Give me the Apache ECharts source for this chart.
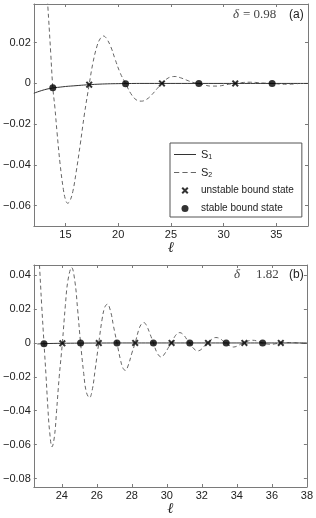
<!DOCTYPE html>
<html><head><meta charset="utf-8">
<script src="https://cdn.jsdelivr.net/npm/echarts@6/dist/echarts.min.js"></script>
<style>html,body{margin:0;padding:0;background:#fff}#c{width:316px;height:518px}</style>
</head><body><div id="c"></div>
<script>
// ---------- panel (a) ----------
const aTicksX = [15, 20, 25, 30, 35];
const aTicksY = [-0.06, -0.04, -0.02, 0, 0.02];
const aS1L = [12, 12.5, 13, 13.5, 14, 14.5, 15, 16, 17, 18, 19, 20, 21, 22, 24, 26, 28, 30, 32, 34, 36, 38];
const aS1V = [-0.0048, -0.0039, -0.0031, -0.0025, -0.0021, -0.0018, -0.0015, -0.0011, -0.0007, -0.0004, -0.0002, -0.0001, -0.00005, 0, 0, 0, 0, 0, 0, 0, 0, 0];
const aS2L = [13.2, 13.4, 13.6, 13.8, 14.0, 14.2, 14.5, 14.8, 15.0, 15.2, 15.4, 15.7, 16.0, 16.4, 16.8, 17.25, 17.6, 18.0, 18.3, 18.6, 18.9, 19.3, 19.7, 20.2, 20.7, 21.2, 21.7, 22.2, 22.7, 23.2, 23.7, 24.15, 24.6, 25.0, 25.4, 25.9, 26.5, 27.1, 27.65, 28.2, 28.8, 29.4, 30.0, 30.6, 31.1, 31.7, 32.4, 33.0, 33.7, 34.6, 35.3, 36.0, 36.6, 37.0];
const aS2V = [0.048, 0.032, 0.015, -0.002, -0.012, -0.024, -0.040, -0.052, -0.057, -0.0588, -0.058, -0.053, -0.044, -0.030, -0.015, -0.0005, 0.010, 0.0185, 0.022, 0.0233, 0.022, 0.018, 0.012, 0.005, 0.000, -0.005, -0.0080, -0.0087, -0.0078, -0.0055, -0.0025, 0.000, 0.0022, 0.0032, 0.0034, 0.0028, 0.0016, 0.0005, 0.000, -0.0008, -0.0013, -0.0013, -0.0009, -0.0003, 0.000, 0.0004, 0.0006, 0.0005, 0.0002, 0.000, -0.0003, -0.0004, -0.0003, -0.0002];
const aUnstableL = [17.25, 24.15, 31.1];
const aUnstableV = [-0.0006, 0, 0];
const aStableL = [13.8, 20.7, 27.65, 34.6];
const aStableV = [-0.0021, -0.0001, 0, 0];

// ---------- panel (b) ----------
const bTicksX = [24, 26, 28, 30, 32, 34, 36, 38];
const bTicksY = [-0.08, -0.06, -0.04, -0.02, 0, 0.02, 0.04];
const bS1L = [22.6, 23, 24, 25, 26, 28, 30, 32, 34, 36, 38];
const bS1V = [-0.0006, -0.0004, -0.0002, -0.0001, -0.00005, 0, 0, 0, 0, 0, 0];
const bS2L = [22.55, 22.7, 22.85, 22.98, 23.1, 23.2, 23.3, 23.44, 23.58, 23.7, 23.85, 24.03, 24.2, 24.35, 24.56, 24.75, 24.9, 25.07, 25.25, 25.4, 25.58, 25.75, 25.9, 26.11, 26.3, 26.45, 26.6, 26.8, 26.95, 27.15, 27.35, 27.5, 27.63, 27.8, 28.0, 28.19, 28.4, 28.55, 28.69, 28.85, 29.05, 29.23, 29.45, 29.68, 29.9, 30.1, 30.27, 30.5, 30.74, 30.95, 31.15, 31.31, 31.55, 31.77, 32.0, 32.2, 32.35, 32.6, 32.8, 33.05, 33.25, 33.39, 33.6, 33.8, 34.05, 34.25, 34.43, 34.65, 34.9, 35.2, 35.47, 35.75, 35.95, 36.2, 36.51, 36.9, 37.3, 37.7, 38.0];
const bS2V = [0.075, 0.050, 0.022, 0.000, -0.020, -0.038, -0.052, -0.0613, -0.055, -0.040, -0.020, 0.000, 0.022, 0.037, 0.0445, 0.036, 0.020, 0.000, -0.018, -0.029, -0.0323, -0.027, -0.016, 0.000, 0.014, 0.021, 0.0229, 0.018, 0.010, 0.000, -0.010, -0.015, -0.0162, -0.013, -0.006, 0.000, 0.008, 0.0112, 0.0120, 0.010, 0.005, 0.000, -0.006, -0.0083, -0.006, -0.0025, 0.000, 0.0045, 0.0061, 0.0048, 0.002, 0.000, -0.0035, -0.0047, -0.0035, -0.0012, 0.000, 0.0025, 0.0032, 0.0025, 0.0008, 0.000, -0.0017, -0.0024, -0.0017, -0.0005, 0.000, 0.0012, 0.0016, 0.0010, 0.000, -0.0007, -0.0008, -0.0005, 0.000, 0.0002, 0.0001, -0.0002, -0.0003];
const bUnstableL = [24.03, 26.11, 28.19, 30.27, 32.35, 34.43, 36.51];
const bUnstableV = [-0.0002, -0.0001, 0, 0, 0, 0, 0];
const bStableL = [22.98, 25.07, 27.15, 29.23, 31.31, 33.39, 35.47];
const bStableV = [-0.0004, -0.0001, 0, 0, 0, 0, 0];

const zip = (xs, ys) => xs.map((x, i) => [x, ys[i]]);
const CROSS = 'path://M2,0L5,3L8,0L10,2L7,5L10,8L8,10L5,7L2,10L0,8L3,5L0,2Z';
const SOLID_ICON = 'path://M0,0H22V1H0Z';
const DASH_ICON = 'path://M0,0H5V1H0Z M8,0H13V1H8Z M16,0H21V1H16Z';
const AX = '#7a7a7a';
const LBL = {fontFamily: 'Liberation Sans', fontSize: 11, color: '#222'};
const yFmt = v => v === 0 ? '0' : (v < 0 ? '\u2212' : '') + Math.abs(v).toFixed(2);

function xAx(grid, min, max, ticks, primary) {
  return {
    type: 'value', gridIndex: grid, min: min, max: max,
    position: primary ? 'bottom' : 'top',
    axisLine: {show: true, onZero: false, lineStyle: {color: AX, width: 1}},
    axisTick: {show: true, inside: true, length: 3, customValues: ticks, lineStyle: {color: AX}},
    axisLabel: primary ? Object.assign({show: true, margin: 3, customValues: ticks}, LBL) : {show: false},
    splitLine: {show: false},
    name: primary ? 'ℓ' : '', nameLocation: 'middle', nameGap: 10,
    nameTextStyle: {fontFamily: 'Liberation Serif', fontStyle: 'italic', fontSize: 15, color: '#222'}
  };
}
function yAx(grid, min, max, ticks, primary) {
  return {
    type: 'value', gridIndex: grid, min: min, max: max,
    position: primary ? 'left' : 'right',
    axisLine: {show: true, onZero: false, lineStyle: {color: AX, width: 1}},
    axisTick: {show: true, inside: true, length: 3, customValues: ticks, lineStyle: {color: AX}},
    axisLabel: primary ? Object.assign({show: true, margin: 3, customValues: ticks, formatter: yFmt}, LBL) : {show: false},
    splitLine: {show: false}
  };
}
function panelSeries(g, s1, s2, un, st) {
  return [
    {name: 'S1', type: 'line', xAxisIndex: g * 2, yAxisIndex: g * 2, data: s1, symbol: 'none', smooth: 0.4,
     lineStyle: {color: '#333', width: 1}, itemStyle: {color: '#333'}, z: 3},
    {name: 'S2', type: 'line', xAxisIndex: g * 2, yAxisIndex: g * 2, data: s2, symbol: 'none', smooth: 0.4,
     lineStyle: {color: '#666', width: 1, type: [4, 3]}, itemStyle: {color: '#666'}, z: 2},
    {name: 'unstable bound state', type: 'scatter', xAxisIndex: g * 2, yAxisIndex: g * 2, data: un,
     symbol: CROSS, symbolSize: 7, itemStyle: {color: '#000'}, z: 5},
    {name: 'stable bound state', type: 'scatter', xAxisIndex: g * 2, yAxisIndex: g * 2, data: st,
     symbol: 'circle', symbolSize: 7, itemStyle: {color: '#000'}, z: 5}
  ];
}
function txt(x, y, s, font, fill) {
  return {type: 'text', x: x, y: y, z: 10,
    style: {text: s, font: font, fill: fill, textVerticalAlign: 'middle', textAlign: 'left'}};
}
const SERIF_I = 'italic 13px "Liberation Serif"';
const SERIF = '13px "Liberation Serif"';
const SANS = '12px "Liberation Sans"';

const chart = echarts.init(document.getElementById('c'), null, {renderer: 'canvas'});
chart.setOption({
  animation: false,
  backgroundColor: '#fff',
  grid: [
    {left: 29, right: 8, top: 4, height: 222},
    {left: 29, right: 8, top: 265, height: 222}
  ],
  xAxis: [
    xAx(0, 12, 38, aTicksX, true), xAx(0, 12, 38, aTicksX, false),
    xAx(1, 22.4, 38, bTicksX, true), xAx(1, 22.4, 38, bTicksX, false)
  ],
  yAxis: [
    yAx(0, -0.07, 0.039, aTicksY, true), yAx(0, -0.07, 0.039, aTicksY, false),
    yAx(1, -0.085, 0.046, bTicksY, true), yAx(1, -0.085, 0.046, bTicksY, false)
  ],
  graphic: [
    txt(233, 15, 'δ', SERIF_I, '#444'),
    txt(243, 15, '= 0.98', SERIF, '#444'),
    txt(289, 15, '(a)', SANS, '#222'),
    txt(234, 275, 'δ', SERIF_I, '#444'),
    txt(256, 275, '1.82', SERIF, '#444'),
    txt(289, 275, '(b)', SANS, '#222')
  ],
  legend: {
    orient: 'vertical', left: 170, top: 143,
    padding: [5, 8, 2, 4], itemGap: 5, itemWidth: 22, itemHeight: 7,
    borderColor: '#555', borderWidth: 1, borderRadius: 0, backgroundColor: '#fff',
    data: [{name: 'S1', icon: SOLID_ICON}, {name: 'S2', icon: DASH_ICON}, 'unstable bound state', 'stable bound state'],
    formatter: n => n === 'S1' ? '{s|S}{u|1}' : n === 'S2' ? '{s|S}{u|2}' : n,
    textStyle: {fontFamily: 'Liberation Sans', fontSize: 10, color: '#222', lineHeight: 13,
      rich: {s: {fontSize: 11, fontFamily: 'Liberation Sans', color: '#222', lineHeight: 13},
             u: {fontSize: 7, fontFamily: 'Liberation Sans', color: '#222', lineHeight: 7, verticalAlign: 'bottom'}}}
  },
  series: [].concat(
    panelSeries(0, zip(aS1L, aS1V), zip(aS2L, aS2V), zip(aUnstableL, aUnstableV), zip(aStableL, aStableV)),
    panelSeries(1, zip(bS1L, bS1V), zip(bS2L, bS2V), zip(bUnstableL, bUnstableV), zip(bStableL, bStableV))
  )
});
</script></body></html>
